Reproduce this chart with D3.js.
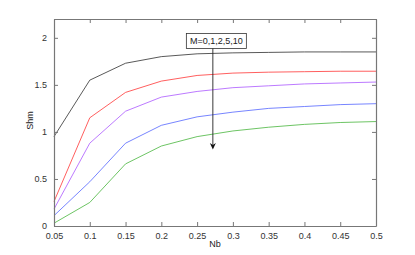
<!DOCTYPE html>
<html>
<head>
<meta charset="utf-8">
<script src="https://cdn.jsdelivr.net/npm/d3@7"></script>
<style>
  body { margin: 0; background: #fff; }
  svg text { font-family: "Liberation Sans", Arial, sans-serif; fill: #222; }
</style>
</head>
<body>
<div id="chart"></div>
<script>
var nb = [0.05, 0.1, 0.15, 0.2, 0.25, 0.3, 0.35, 0.4, 0.45, 0.5];
var shmM0 = [0.95, 1.55, 1.73, 1.80, 1.83, 1.84, 1.845, 1.85, 1.85, 1.85];
var shmM1 = [0.26, 1.15, 1.42, 1.54, 1.60, 1.625, 1.635, 1.64, 1.645, 1.645];
var shmM2 = [0.18, 0.88, 1.22, 1.37, 1.43, 1.47, 1.49, 1.51, 1.52, 1.53];
var shmM5 = [0.11, 0.47, 0.88, 1.07, 1.16, 1.21, 1.25, 1.27, 1.29, 1.30];
var shmM10 = [0.03, 0.25, 0.66, 0.85, 0.95, 1.01, 1.05, 1.08, 1.10, 1.11];
var seriesNames = ["M=0", "M=1", "M=2", "M=5", "M=10"];
var xTicks = [0.05, 0.1, 0.15, 0.2, 0.25, 0.3, 0.35, 0.4, 0.45, 0.5];
var yTicks = [0, 0.5, 1, 1.5, 2];
var annotation = "M=0,1,2,5,10";

function drawChart() {
  var margin = {top: 19, right: 39, bottom: 29, left: 54},
      width = 415 - margin.left - margin.right,
      height = 255 - margin.top - margin.bottom;

  var colors = ["#222222", "#ff2a2a", "#a64dff", "#4a5cff", "#3cb030"];
  var allSeries = [shmM0, shmM1, shmM2, shmM5, shmM10];

  var x = d3.scaleLinear().domain([0.05, 0.5]).range([0, width]);
  var y = d3.scaleLinear().domain([0, 2.2]).range([height, 0]);

  var svg = d3.select("#chart").append("svg")
      .attr("width", 415)
      .attr("height", 255)
    .append("g")
      .attr("transform", "translate(" + margin.left + "," + margin.top + ")");

  var line = d3.line()
      .x(function(d, i) { return x(nb[i]); })
      .y(function(d) { return y(d); });

  svg.selectAll(".series")
      .data(allSeries)
      .enter()
      .append("path")
      .attr("class", "series")
      .attr("d", line)
      .style("fill", "none")
      .style("stroke", function(d, i) { return colors[i]; })
      .style("stroke-width", 0.75);

  // axes with inward ticks (matlab look)
  var xAxis = d3.axisBottom(x).tickValues(xTicks).tickSizeInner(-4).tickSizeOuter(0).tickPadding(7)
      .tickFormat(function(d) { return String(+d.toFixed(2)); });
  var yAxis = d3.axisLeft(y).tickValues(yTicks).tickSizeInner(-4).tickSizeOuter(0).tickPadding(7)
      .tickFormat(function(d) { return String(d); });

  var gx = svg.append("g")
      .attr("class", "xAxis")
      .attr("transform", "translate(0," + height + ")")
      .call(xAxis);
  var gy = svg.append("g")
      .attr("class", "yAxis")
      .call(yAxis);

  var gxTop = svg.append("g").call(d3.axisTop(x).tickValues(xTicks).tickSizeInner(-4).tickSizeOuter(0).tickFormat(""));
  var gyRight = svg.append("g")
      .attr("transform", "translate(" + width + ",0)")
      .call(d3.axisRight(y).tickValues(yTicks).tickSizeInner(-4).tickSizeOuter(0).tickFormat(""));

  [gx, gy, gxTop, gyRight].forEach(function(g) {
    g.selectAll("path.domain").style("stroke", "#777").style("stroke-width", 1.2);
    g.selectAll(".tick line").style("stroke", "#777");
    g.selectAll("text")
      .style("font-family", "'Liberation Sans', Arial, sans-serif")
      .style("font-size", "9px")
      .style("fill", "#333");
  });

  svg.append("text")
    .attr("class", "axisText")
    .attr("x", width / 2)
    .attr("y", height + 21)
    .style("text-anchor", "middle")
    .style("font-size", "9px")
    .text("Nb");

  svg.append("text")
    .attr("class", "axisText")
    .attr("transform", "rotate(-90)")
    .attr("x", -(height / 2) + 2)
    .attr("y", -21)
    .style("text-anchor", "middle")
    .style("font-size", "9px")
    .text("Shm");

  // annotation box + arrow
  var ax = x(0.272);
  svg.append("rect")
    .attr("x", ax - 26.5)
    .attr("y", 14.5)
    .attr("width", 60)
    .attr("height", 15)
    .style("fill", "#fff")
    .style("stroke", "#333")
    .style("stroke-width", 0.8);

  svg.append("text")
    .attr("x", ax + 3.5)
    .attr("y", 25)
    .style("text-anchor", "middle")
    .style("font-size", "9px")
    .text(annotation);

  svg.append("line")
    .attr("x1", ax).attr("x2", ax)
    .attr("y1", 29.5).attr("y2", 128)
    .style("stroke", "#222")
    .style("stroke-width", 0.9);

  svg.append("path")
    .attr("d", "M" + (ax - 3) + "," + 124 + " L" + ax + "," + 130.5 + " L" + (ax + 3) + "," + 124 + " L" + ax + "," + 126 + " Z")
    .style("fill", "#111");
}

drawChart();
</script>
</body>
</html>
